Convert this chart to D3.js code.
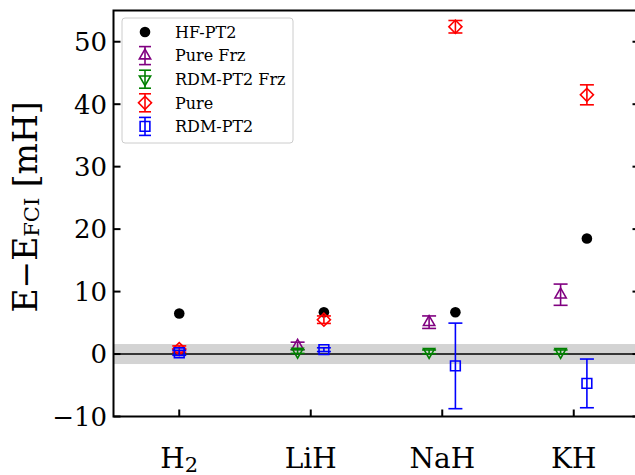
<!DOCTYPE html>
<html>
<head>
<meta charset="utf-8">
<script src="https://cdn.jsdelivr.net/npm/d3@7"></script>
<style>
  body { margin: 0; background: #fff; }
  text { font-family: "DejaVu Serif", serif; }
</style>
</head>
<body>
<svg id="chart" width="635" height="475"></svg>
<script>
// molecules on the x axis
var molecules = ["H2", "LiH", "NaH", "KH"];

// E - E_FCI in mH, null where the series has no point
var hfPt2 = [6.5, 6.7, 6.7, 18.5];
var pureFrz = [null, 1.3, 5.1, 9.5];
var pureFrzErr = [null, 0.6, 1.0, 1.7];
var rdmFrz = [null, 0.4, 0.35, 0.35];
var rdmFrzErr = [null, 0.3, 0.3, 0.3];
var pure = [0.8, 5.5, 52.4, 41.5];
var pureErr = [0.5, 0.6, 1.0, 1.6];
var rdm = [0.2, 0.7, -1.9, -4.7];
var rdmErr = [0.4, 0.3, 6.85, 3.9];

var yTicks = [-10, 0, 10, 20, 30, 40, 50];
var chemAcc = 1.6;

var svg = d3.select("#chart");

var x = d3.scaleLinear().domain([-0.5, 3.5]).range([113.5, 639.5]);
var y = d3.scaleLinear().domain([-10, 55]).range([416.5, 10.5]);

// frozen-core series sit left of the tick, the rest right (H2 has no core)
var xPos = function(i, frozen) {
    if (pureFrz[i] == null) return x(i);
    return x(i + (frozen ? -0.1 : 0.1));
};

// chemical accuracy band and zero line
svg.append("rect")
    .attr("x", x(-0.5))
    .attr("width", x(3.5) - x(-0.5))
    .attr("y", y(chemAcc))
    .attr("height", y(-chemAcc) - y(chemAcc))
    .style("fill", "#d3d3d3");

svg.append("line")
    .attr("x1", x(-0.5)).attr("x2", x(3.5))
    .attr("y1", y(0)).attr("y2", y(0))
    .style("stroke", "#000").style("stroke-width", 1.5);

var symbols = {
    tri: d3.symbol().type(d3.symbolTriangle).size(55),
    diamond: d3.symbol().type(d3.symbolSquare).size(85),
    square: d3.symbol().type(d3.symbolSquare).size(95)
};

var series = [
    {name: "Pure Frz", vals: pureFrz, err: pureFrzErr, color: "purple", shape: "tri", rot: 0, frozen: true},
    {name: "RDM-PT2 Frz", vals: rdmFrz, err: rdmFrzErr, color: "green", shape: "tri", rot: 180, frozen: true},
    {name: "Pure", vals: pure, err: pureErr, color: "red", shape: "diamond", rot: 45, frozen: false},
    {name: "RDM-PT2", vals: rdm, err: rdmErr, color: "blue", shape: "square", rot: 0, frozen: false}
];

// HF-PT2 points (drawn first, underneath)
svg.selectAll("hfDot")
    .data(hfPt2)
    .enter()
    .append("circle")
    .attr("cx", function(d, i) { return xPos(i, false); })
    .attr("cy", function(d) { return y(d); })
    .attr("r", 5.3)
    .style("fill", "#000");

var drawErrMarker = function(g, cx, cy, top, bottom, s) {
    var cap = 7;
    g.append("line")
        .attr("x1", cx).attr("x2", cx).attr("y1", top).attr("y2", bottom);
    g.append("line")
        .attr("x1", cx - cap).attr("x2", cx + cap).attr("y1", top).attr("y2", top);
    g.append("line")
        .attr("x1", cx - cap).attr("x2", cx + cap).attr("y1", bottom).attr("y2", bottom);
    g.append("path")
        .attr("d", symbols[s.shape]())
        .attr("transform", "translate(" + cx + "," + cy + ") rotate(" + s.rot + ")")
        .style("fill", "none");
};

series.forEach(function(s) {
    s.vals.forEach(function(v, i) {
        if (v == null) return;
        var g = svg.append("g")
            .style("stroke", s.color)
            .style("stroke-width", 1.6);
        drawErrMarker(g, xPos(i, s.frozen), y(v), y(v + s.err[i]), y(v - s.err[i]), s);
    });
});

// frame
svg.append("rect")
    .attr("x", x(-0.5)).attr("y", y(55))
    .attr("width", x(3.5) - x(-0.5)).attr("height", y(-10) - y(55))
    .style("fill", "none").style("stroke", "#000").style("stroke-width", 2);

// y ticks, inward on both sides
svg.selectAll("yTickL")
    .data(yTicks)
    .enter()
    .append("line")
    .attr("x1", x(-0.5)).attr("x2", x(-0.5) + 7)
    .attr("y1", function(d) { return y(d); })
    .attr("y2", function(d) { return y(d); })
    .style("stroke", "#000").style("stroke-width", 2);

svg.selectAll("yTickR")
    .data(yTicks)
    .enter()
    .append("line")
    .attr("x1", x(3.5)).attr("x2", x(3.5) - 7)
    .attr("y1", function(d) { return y(d); })
    .attr("y2", function(d) { return y(d); })
    .style("stroke", "#000").style("stroke-width", 2);

svg.selectAll("yTickText")
    .data(yTicks)
    .enter()
    .append("text")
    .attr("x", 107)
    .attr("y", function(d) { return y(d); })
    .attr("dy", "0.36em")
    .attr("text-anchor", "end")
    .style("font-size", "26px")
    .text(function(d) { return d < 0 ? "\u2212" + Math.abs(d) : d; });

// x ticks
svg.selectAll("xTick")
    .data(molecules)
    .enter()
    .append("line")
    .attr("x1", function(d, i) { return x(i); })
    .attr("x2", function(d, i) { return x(i); })
    .attr("y1", y(-10)).attr("y2", y(-10) - 7)
    .style("stroke", "#000").style("stroke-width", 2);

var xLabels = svg.selectAll("xTickText")
    .data(molecules)
    .enter()
    .append("text")
    .attr("x", function(d, i) { return x(i); })
    .attr("y", 468)
    .attr("text-anchor", "middle")
    .style("font-size", "28px");

xLabels.each(function(d) {
    var t = d3.select(this);
    var m = d.match(/^([A-Za-z]+)(\d*)$/);
    t.append("tspan").text(m[1]);
    if (m[2]) {
        t.append("tspan").attr("dy", 4).style("font-size", "21px").text(m[2]);
    }
});

// y axis label
var yl = svg.append("text")
    .attr("transform", "translate(37,207) rotate(-90)")
    .attr("text-anchor", "middle")
    .style("font-size", "33px");
yl.append("tspan").text("E\u2212E");
yl.append("tspan").attr("dy", 2).style("font-size", "21px").text("FCI");
yl.append("tspan").attr("dy", -2).text(" [mH]");

// legend
var legend = svg.append("g");
legend.append("rect")
    .attr("x", 122).attr("y", 18)
    .attr("width", 171).attr("height", 125)
    .attr("rx", 3)
    .style("fill", "#fff").style("fill-opacity", 0.8)
    .style("stroke", "#ccc").style("stroke-width", 1);

var legendNames = ["HF-PT2"].concat(series.map(function(s) { return s.name; }));

legend.selectAll("legendText")
    .data(legendNames)
    .enter()
    .append("text")
    .attr("x", 175)
    .attr("y", function(d, i) { return 32 + 23.6 * i; })
    .attr("dy", "0.36em")
    .style("font-size", "16px")
    .text(function(d) { return d; });

legend.append("circle")
    .attr("cx", 145).attr("cy", 32).attr("r", 5.3)
    .style("fill", "#000");

series.forEach(function(s, i) {
    var cy = 32 + 23.6 * (i + 1);
    var g = legend.append("g")
        .style("stroke", s.color)
        .style("stroke-width", 1.6);
    var cap = 6;
    g.append("line").attr("x1", 145).attr("x2", 145).attr("y1", cy - 9).attr("y2", cy + 9);
    g.append("line").attr("x1", 145 - cap).attr("x2", 145 + cap).attr("y1", cy - 9).attr("y2", cy - 9);
    g.append("line").attr("x1", 145 - cap).attr("x2", 145 + cap).attr("y1", cy + 9).attr("y2", cy + 9);
    g.append("path")
        .attr("d", symbols[s.shape]())
        .attr("transform", "translate(145," + cy + ") rotate(" + s.rot + ")")
        .style("fill", "none");
});
</script>
</body>
</html>
